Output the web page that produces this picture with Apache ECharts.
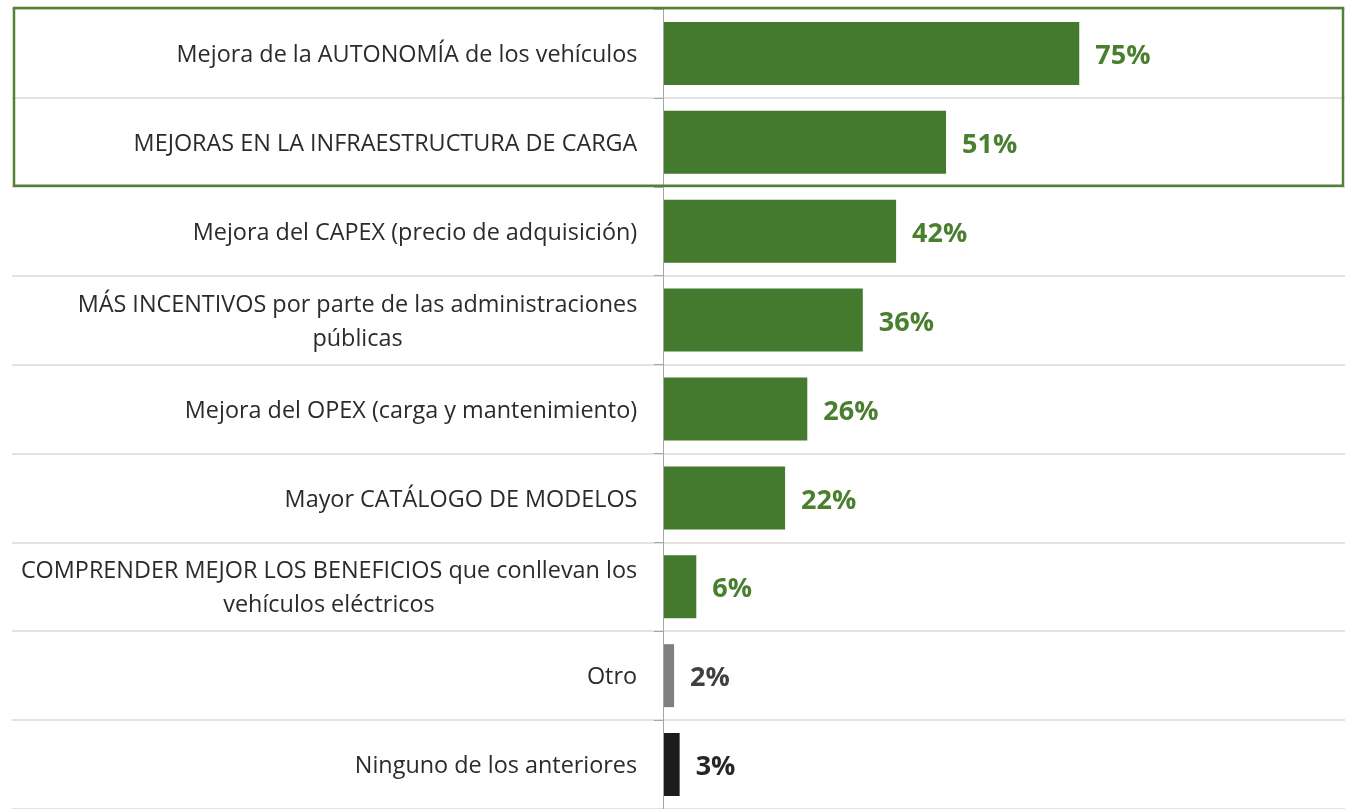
<!DOCTYPE html>
<html><head><meta charset="utf-8">
<script src="https://cdn.jsdelivr.net/npm/echarts@6/dist/echarts.min.js"></script>
<style>html,body{margin:0;padding:0;background:#fff}#c{width:1345px;height:809px}</style>
</head><body><div id="c"></div>
<script>
const categories = [
  'Mejora de la AUTONOMÍA de los vehículos',
  'MEJORAS EN LA INFRAESTRUCTURA DE CARGA',
  'Mejora del CAPEX (precio de adquisición)',
  'MÁS INCENTIVOS por parte de las administraciones\npúblicas',
  'Mejora del OPEX (carga y mantenimiento)',
  'Mayor CATÁLOGO DE MODELOS',
  'COMPRENDER MEJOR LOS BENEFICIOS que conllevan los\nvehículos eléctricos',
  'Otro',
  'Ninguno de los anteriores'
];
const values = [75, 51, 42, 36, 26, 22, 6, 2, 3];

// styles
const GREEN = '#437a2d';
const barColors = [GREEN, GREEN, GREEN, GREEN, GREEN, GREEN, GREEN, '#808080', '#1c1c1c'];
const labelColors = ['#4a7f2f','#4a7f2f','#4a7f2f','#4a7f2f','#4a7f2f','#4a7f2f','#4a7f2f','#404040','#262626'];
const FONT = '"Open Sans", sans-serif';
const LABEL_SIZE = 23.4;

const ctx = document.createElement('canvas').getContext('2d');
ctx.font = LABEL_SIZE + 'px "Open Sans"';
const rich = {};
categories.forEach((c, i) => {
  const lines = c.split('\n');
  const w = Math.max(...lines.map(l => ctx.measureText(l).width));
  rich['r' + i] = { width: Math.ceil(w) + 1, align: 'center', fontSize: LABEL_SIZE, fontFamily: FONT, color: '#2b2b2b', lineHeight: 34 };
});

const chart = echarts.init(document.getElementById('c'), null, { renderer: 'canvas' });
chart.setOption({
  animation: false,
  grid: [
    { left: 663, width: 555, top: 9, bottom: 0 },
    { left: 12, right: 0, top: 9, bottom: 0 }
  ],
  xAxis: [
    { type: 'value', gridIndex: 0, min: 0, max: 100, show: false },
    { type: 'value', gridIndex: 1, min: 0, max: 100, show: false }
  ],
  yAxis: [
    {
      type: 'category', gridIndex: 0, data: categories, inverse: true,
      axisLine: { show: true, lineStyle: { color: '#a6a6a6', width: 1 } },
      axisTick: { show: true, length: 9, interval: 0, lineStyle: { color: '#a6a6a6' } },
      splitLine: { show: false },
      axisLabel: {
        interval: 0, margin: 25, align: 'right', padding: [4, 0, 0, 0],
        formatter: (v, i) => v.split('\n').map(l => '{r' + i + '|' + l + '}').join('\n'),
        rich: rich
      },
      z: 3
    },
    {
      type: 'category', gridIndex: 1, data: categories, inverse: true,
      axisLine: { show: false }, axisTick: { show: false, interval: 0 }, axisLabel: { show: false, interval: 0 },
      splitLine: { show: true, interval: 0, lineStyle: { color: '#d9d9d9', width: 1.5 } }
    }
  ],
  series: [{
    type: 'bar', xAxisIndex: 0, yAxisIndex: 0, barWidth: 63, silent: true,
    data: values.map((v, i) => ({ value: v, itemStyle: { color: barColors[i] }, label: { color: labelColors[i] } })),
    label: { show: true, position: 'right', distance: 16, offset: [0, 3], formatter: '{c}%', fontSize: 27, fontWeight: 'bold', fontFamily: FONT }
  }]
});

const c0 = chart.convertToPixel({ yAxisIndex: 0 }, categories[0]);
const c1 = chart.convertToPixel({ yAxisIndex: 0 }, categories[1]);
const band = c1 - c0;
chart.setOption({
  graphic: [{
    type: 'rect', z: 10, silent: true,
    shape: { x: 14, y: c0 - band / 2 - 1, width: 1329, height: 2 * band },
    style: { fill: 'none', stroke: '#548235', lineWidth: 2.5 }
  }]
});
</script></body></html>
